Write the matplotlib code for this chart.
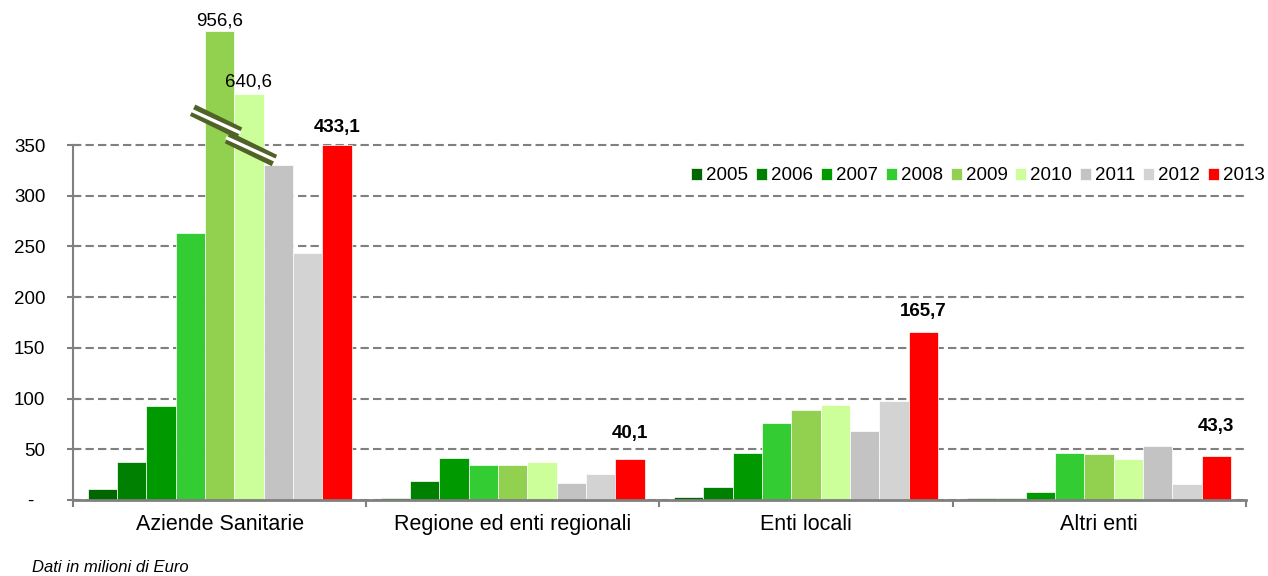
import matplotlib
matplotlib.use("Agg")
import matplotlib.pyplot as plt
from matplotlib.ticker import FixedLocator

plt.rcParams['font.family'] = ['Liberation Sans', 'DejaVu Sans']

categories = ["Aziende Sanitarie", "Regione ed enti regionali", "Enti locali", "Altri enti"]
years = ["2005", "2006", "2007", "2008", "2009", "2010", "2011", "2012", "2013"]

v2005 = [10.5, 1.5, 2.6, 1.6]
v2006 = [37.5, 18.4, 12.8, 1.6]
v2007 = [92.7, 41.0, 46.3, 7.9]
v2008 = [263.2, 34.5, 75.6, 46.3]
v2009 = [956.6, 34.5, 88.7, 45.0]
v2010 = [640.6, 37.5, 93.7, 40.0]
v2011 = [330.0, 16.8, 68.0, 52.9]
v2012 = [243.5, 25.6, 97.9, 15.4]
v2013 = [433.1, 40.1, 165.7, 43.3]
series = [v2005, v2006, v2007, v2008, v2009, v2010, v2011, v2012, v2013]

colors = ["#006600", "#008000", "#009900", "#33CC33", "#92D050",
          "#CCFF99", "#C3C3C3", "#D3D3D3", "#FF0000"]

yticks = [0, 50, 100, 150, 200, 250, 300, 350]
ytick_labels = ["-  ", "50", "100", "150", "200", "250", "300", "350"]

# broken-axis bars: (category, year) -> drawn height on the truncated scale
broken_heights = {(0, 4): 462.0, (0, 5): 400.0, (0, 8): 350.0}

# labelled values: (category, year, bold, vertical offset in px)
labels = [(0, 4, False, 2), (0, 5, False, 4), (0, 8, True, 9),
          (1, 8, True, 17), (2, 8, True, 12), (3, 8, True, 21)]

W, H = 1268, 576
fig = plt.figure(figsize=(W / 100, H / 100), dpi=100)
ax = fig.add_axes([73 / W, 76 / H, 1172.7 / W, 500 / H])

bw = 0.1
n = len(years)
handles = []
for j, (yr, vals, col) in enumerate(zip(years, series, colors)):
    xs = [i + (j - (n - 1) / 2) * bw for i in range(len(categories))]
    hs = [broken_heights.get((i, j), v) for i, v in enumerate(vals)]
    b = ax.bar(xs, hs, width=bw, color=col, edgecolor="white", linewidth=0.5,
               label=yr, zorder=2)
    handles.append(b)

gray = "#808080"
ax.set_xlim(-0.5, len(categories) - 0.5)
ax.set_ylim(0, 500 * 350 / 355)
ax.set_yticks(yticks)
ax.set_yticklabels(ytick_labels, fontsize=13.5)
ax.yaxis.grid(True, linestyle=(0, (4, 2)), color=gray, linewidth=1.5, zorder=0)
ax.set_axisbelow(True)

for s in ["top", "right"]:
    ax.spines[s].set_visible(False)
ax.spines["left"].set_bounds(0, 350)
ax.spines["left"].set_color(gray)
ax.spines["left"].set_linewidth(1.5)
ax.spines["bottom"].set_color(gray)
ax.spines["bottom"].set_linewidth(2)
ax.spines["left"].set_zorder(3)
ax.spines["bottom"].set_zorder(3)

ax.tick_params(axis="y", direction="inout", length=8, width=1.5, color=gray, pad=16)
ax.xaxis.set_major_locator(FixedLocator([i - 0.5 for i in range(len(categories) + 1)]))
ax.xaxis.set_minor_locator(FixedLocator(list(range(len(categories)))))
ax.set_xticklabels([], minor=False)
ax.set_xticklabels(categories, minor=True, fontsize=15.5)
ax.tick_params(axis="x", which="major", direction="out", length=5, width=1.5, color=gray)
ax.tick_params(axis="x", which="minor", length=0, pad=10)

# value labels
for (i, j, bold, dy) in labels:
    x = i + (j - (n - 1) / 2) * bw
    h = broken_heights.get((i, j), series[j][i])
    txt = f"{series[j][i]:.1f}".replace(".", ",")
    ax.annotate(txt, (x, h), xytext=(0, dy * 0.72), textcoords="offset points",
                ha="center", va="bottom", fontsize=13.5,
                fontweight="bold" if bold else "normal", zorder=5,
                annotation_clip=False)

# axis-break marks
brk = [(0 + (4 - 4) * bw - 0.012, 373.0), (0 + (5 - 4) * bw + 0.007, 346.0)]
dx, dy = 0.08, 11.3
for (cx, cy) in brk:
    ax.plot([cx - dx, cx + dx], [cy + dy, cy - dy], color="#4F6228", lw=9,
            solid_capstyle="butt", zorder=6, clip_on=False)
    ax.plot([cx - dx - 0.005, cx + dx + 0.005], [cy + dy, cy - dy], color="white", lw=2.4,
            solid_capstyle="butt", zorder=7, clip_on=False)

fig.legend(handles=handles, labels=years, loc="center left",
           bbox_to_anchor=(691 / W, 1 - 176 / H), ncol=9, frameon=False,
           fontsize=13.5, handlelength=0.59, handleheight=0.59, handletextpad=0.21,
           columnspacing=0.42, borderpad=0, borderaxespad=0)

fig.text(32 / W, 1 - 567 / H, "Dati in milioni di Euro", fontsize=12,
         style="italic", ha="left", va="center")

fig.savefig("out.png", dpi=100)
